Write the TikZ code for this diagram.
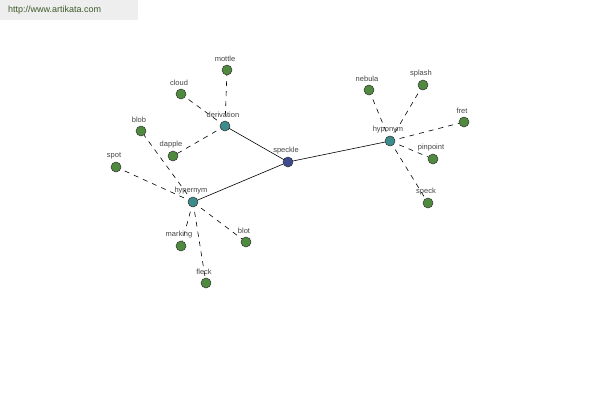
\documentclass[tikz,border=0pt]{standalone}
\usepackage{fontspec}
\setmainfont{Liberation Sans}
\usetikzlibrary{backgrounds}
\definecolor{leaf}{HTML}{4F8A3F}
\definecolor{hub}{HTML}{3C8C8C}
\definecolor{core}{HTML}{3E4A8E}
\definecolor{lblgray}{HTML}{444444}
\definecolor{bannerbg}{HTML}{EEEEEE}
\definecolor{bannertxt}{HTML}{3E5A2A}
\tikzset{
  lbl/.style={font=\fontsize{7.5}{8.5}\selectfont, text=lblgray, inner sep=0pt, label distance=2.5pt, xshift=-2pt},
  dot/.style={circle, draw=black!80, line width=0.5pt, minimum size=10pt, inner sep=0pt},
  leafdot/.style={dot, fill=leaf},
  hubdot/.style={dot, fill=hub},
  coredot/.style={dot, fill=core},
  rel/.style={draw=black, line width=0.6pt},
  sub/.style={draw=black, line width=0.6pt, dash pattern=on 5pt off 5pt}
}
\begin{document}
\begin{tikzpicture}[x=1pt,y=-1pt]
\useasboundingbox (0,0) rectangle (600,400);
\node[fill=bannerbg, minimum width=138pt, minimum height=20pt, anchor=north west, inner sep=0pt] (banner) at (0,0) {};
\node[anchor=west, text=bannertxt, font=\fontsize{9}{10}\selectfont, inner sep=0pt] (url) at (8,10.5) {http://www.artikata.com};

\node[coredot, label={[lbl]above:speckle}] (speckle) at (288,162) {};
\node[hubdot, label={[lbl]above:derivation}] (derivation) at (225,126) {};
\node[hubdot, label={[lbl]above:hypernym}] (hypernym) at (193,202) {};
\node[hubdot, label={[lbl]above:hyponym}] (hyponym) at (390,141) {};

\node[leafdot, label={[lbl]above:mottle}] (mottle) at (227,70) {};
\node[leafdot, label={[lbl]above:cloud}] (cloud) at (181,94) {};
\node[leafdot, label={[lbl]above:dapple}] (dapple) at (173,156) {};
\node[leafdot, label={[lbl]above:blob}] (blob) at (141,131) {};
\node[leafdot, label={[lbl]above:spot}] (spot) at (116,167) {};
\node[leafdot, label={[lbl]above:marking}] (marking) at (181,246) {};
\node[leafdot, label={[lbl]above:fleck}] (fleck) at (206,283) {};
\node[leafdot, label={[lbl]above:blot}] (blot) at (246,242) {};
\node[leafdot, label={[lbl]above:nebula}] (nebula) at (369,90) {};
\node[leafdot, label={[lbl]above:splash}] (splash) at (423,85) {};
\node[leafdot, label={[lbl]above:fret}] (fret) at (464,122) {};
\node[leafdot, label={[lbl]above:pinpoint}] (pinpoint) at (433,159) {};
\node[leafdot, label={[lbl]above:speck}] (speck) at (428,203) {};

\begin{scope}[on background layer]
\draw[rel] (speckle.center) -- (derivation.center);
\draw[rel] (speckle.center) -- (hypernym.center);
\draw[rel] (speckle.center) -- (hyponym.center);
\foreach \t in {mottle,cloud,dapple} \draw[sub] (derivation.center) -- (\t.center);
\foreach \t in {blob,spot,marking,fleck,blot} \draw[sub] (hypernym.center) -- (\t.center);
\foreach \t in {nebula,splash,fret,pinpoint,speck} \draw[sub] (hyponym.center) -- (\t.center);
\end{scope}
\end{tikzpicture}
\end{document}
